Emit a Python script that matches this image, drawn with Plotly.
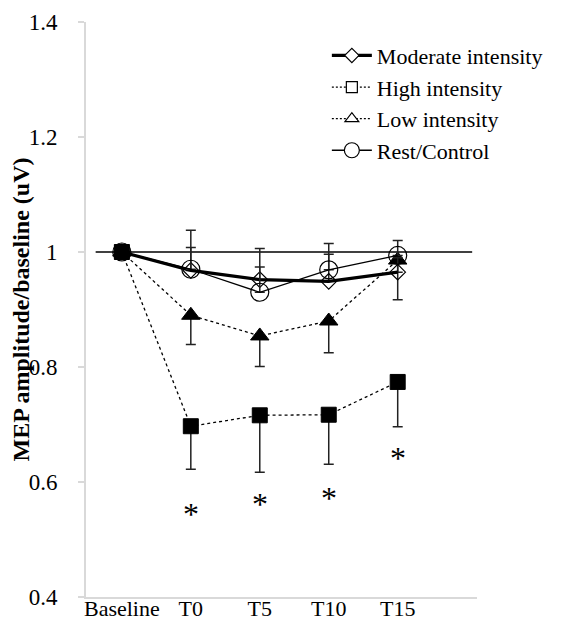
import plotly.graph_objects as go

# ---------------- data ----------------
categories = ["Baseline", "T0", "T5", "T10", "T15"]

moderate = [1.0, 0.968, 0.952, 0.949, 0.965]
moderate_err_up = [0.0, 0.040, 0.054, 0.047, 0.025]

high = [1.0, 0.697, 0.716, 0.717, 0.774]
high_err_down = [0.0, 0.075, 0.099, 0.086, 0.078]

low = [1.0, 0.890, 0.854, 0.880, 0.986]
low_err_down = [0.0, 0.051, 0.053, 0.055, 0.069]

rest = [1.0, 0.970, 0.930, 0.969, 0.994]
rest_err_up = [0.0, 0.068, 0.044, 0.046, 0.026]

asterisk_cats = ["T0", "T5", "T10", "T15"]
asterisk_y = [0.552, 0.569, 0.580, 0.648]

reference_value = 1.0
y_ticks = [0.4, 0.6, 0.8, 1.0, 1.2, 1.4]
y_tick_labels = ["0.4", "0.6", "0.8", "1", "1.2", "1.4"]

series_names = ["Moderate intensity", "High intensity", "Low intensity", "Rest/Control"]

# ---------------- figure ----------------
FONT = "Liberation Serif, Times New Roman, serif"
x_idx = list(range(len(categories)))
ast_idx = [categories.index(c) for c in asterisk_cats]
zeros = [0.0] * len(categories)
hollow = "rgba(255,255,255,0)"

fig = go.Figure()

# reference line at 1
fig.add_shape(type="line", xref="x", yref="y", x0=-0.38, x1=5.08,
              y0=reference_value, y1=reference_value,
              line=dict(color="black", width=1.3), layer="below")

err_common = dict(type="data", symmetric=False, color="#222222", thickness=1.5, width=5)

fig.add_trace(go.Scatter(
    x=x_idx, y=high, mode="lines+markers", showlegend=False,
    line=dict(color="black", width=1.3, dash="3px,3px"),
    marker=dict(symbol="square", size=15, color="black", line=dict(color="black", width=1)),
    error_y=dict(array=zeros, arrayminus=high_err_down, **err_common),
))
fig.add_trace(go.Scatter(
    x=x_idx, y=low, mode="lines+markers", showlegend=False,
    line=dict(color="black", width=1.3, dash="3px,3px"),
    marker=dict(symbol="triangle-up", size=16, color="black", line=dict(color="black", width=1)),
    error_y=dict(array=zeros, arrayminus=low_err_down, **err_common),
))
fig.add_trace(go.Scatter(
    x=x_idx, y=moderate, mode="lines+markers", showlegend=False,
    line=dict(color="black", width=3.2),
    marker=dict(symbol="diamond", size=12, color=hollow, line=dict(color="black", width=1.2)),
    error_y=dict(array=moderate_err_up, arrayminus=zeros, **err_common),
))
fig.add_trace(go.Scatter(
    x=x_idx, y=rest, mode="lines+markers", showlegend=False,
    line=dict(color="black", width=1.3),
    marker=dict(symbol="circle", size=18, color=hollow, line=dict(color="black", width=1.2)),
    error_y=dict(array=rest_err_up, arrayminus=zeros, **err_common),
))
fig.add_trace(go.Scatter(
    x=x_idx[:1], y=high[:1], mode="markers", showlegend=False,
    marker=dict(symbol="square", size=15, color="black"),
))

legend_styles = [
    dict(line=dict(color="black", width=3.2),
         marker=dict(symbol="diamond", size=11, color="white", line=dict(color="black", width=1.2))),
    dict(line=dict(color="black", width=1.3, dash="2px,2px"),
         marker=dict(symbol="square", size=11, color="white", line=dict(color="black", width=1.2))),
    dict(line=dict(color="black", width=1.3, dash="2px,2px"),
         marker=dict(symbol="triangle-up", size=12, color="white", line=dict(color="black", width=1.2))),
    dict(line=dict(color="black", width=1.3),
         marker=dict(symbol="circle", size=15, color="white", line=dict(color="black", width=1.2))),
]
for name, st in zip(series_names, legend_styles):
    fig.add_trace(go.Scatter(x=[None], y=[None], mode="lines+markers", name=name, **st))

for xi, yv in zip(ast_idx, asterisk_y):
    fig.add_annotation(x=xi, y=yv, xref="x", yref="y", text="*", showarrow=False,
                       yshift=-4, font=dict(family=FONT, size=32, color="black"))

# page has an 8px body margin: shrink the figure so the plot sits where intended
fig.update_layout(
    width=553, height=616,
    margin=dict(l=78, r=84, t=14, b=27),
    paper_bgcolor="white", plot_bgcolor="white",
    font=dict(family=FONT, size=23, color="black"),
    showlegend=True,
    legend=dict(x=0.616, y=0.978, xanchor="left", yanchor="top",
                bgcolor="rgba(0,0,0,0)", font=dict(size=22, family=FONT),
                traceorder="normal", itemwidth=40, tracegroupgap=0),
    xaxis=dict(range=[-0.52, 5.15], tickvals=x_idx, ticktext=categories,
               showgrid=False, zeroline=False, showline=True, linecolor="#d9d9d9",
               linewidth=2, ticks="", automargin=False, ticklabelstandoff=-9,
               tickfont=dict(size=22, family=FONT)),
    yaxis=dict(range=[0.4, 1.4], tickvals=y_ticks, ticktext=y_tick_labels,
               showgrid=False, zeroline=False, showline=True, linecolor="#d9d9d9",
               linewidth=2, ticks="outside", ticklen=6, tickcolor="#d9d9d9", tickwidth=2,
               ticklabelstandoff=16, automargin=False, tickfont=dict(size=23, family=FONT),
               title=dict(text="<b>MEP amplitude/baseline (uV)</b>", standoff=1,
                          font=dict(size=24, family=FONT))),
)

fig.write_html("out.html")
